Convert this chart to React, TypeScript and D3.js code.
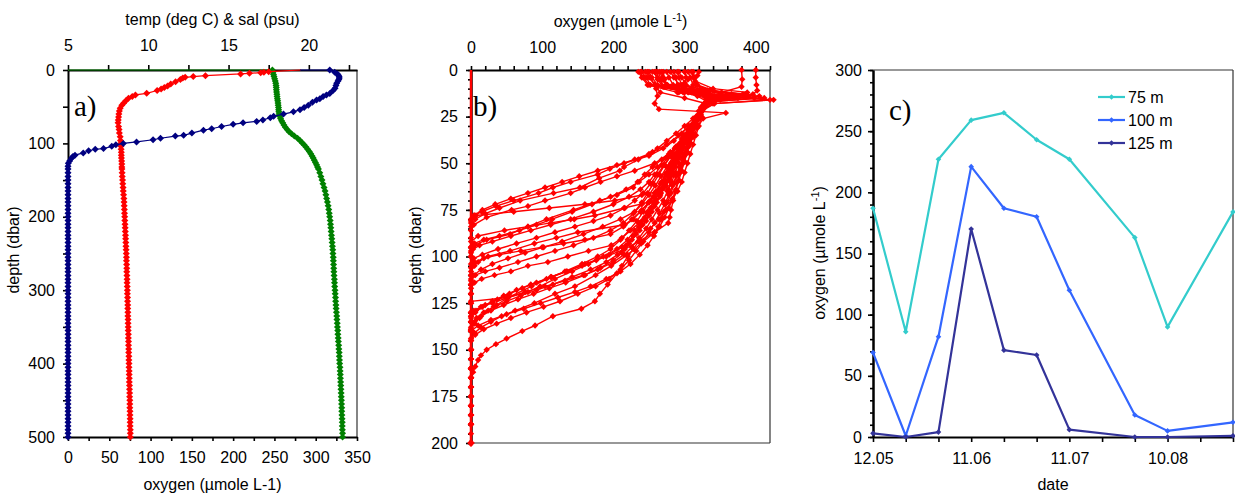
import React, { useRef, useEffect } from 'react';
import * as d3 from 'd3';

type Pt = [number, number]; // [depth, value]

// ---------- panel a : one CTD station ----------
// first point of each series is the empty spreadsheet row drawn at depth 0
const tempUpper: Pt[] = [
  [0, 19.5], [2.3, 17.5], [3, 17.2], [3.6, 17.0], [4.5, 16.3], [5.4, 15.75], [7.7, 13.56], [9, 12.8], [10, 12.3],
  [11, 12.15], [13, 12.0], [16, 11.7], [19, 11.4], [21.8, 11.2], [24, 11.0], [26, 10.8], [28, 10.55], [31.8, 9.9],
  [34, 9.2], [36, 9.0], [38.6, 8.77], [42, 8.6], [45.4, 8.46], [48, 8.35], [52, 8.25], [56, 8.2], [60, 8.17],
  [64, 8.15], [68, 8.13], [72, 8.12], [77, 8.15], [81, 8.18], [86, 8.2], [91, 8.25], [96, 8.27], [100, 8.28],
  [104, 8.3], [108, 8.31], [112, 8.32], [116, 8.32], [120, 8.33], [124, 8.34], [128, 8.35], [132, 8.35],
];
const salUpper: Pt[] = [
  [0, 5], [0, 17.73], [3, 17.76], [6, 17.8], [9, 17.83], [12, 17.87], [15, 17.91], [18, 17.94], [21, 17.96],
  [24, 17.97], [27, 17.98], [30, 17.99], [33, 18.01], [36, 18.02], [39, 18.04], [42, 18.06], [45, 18.08],
  [48, 18.09], [51, 18.11], [54, 18.12], [57, 18.13], [60, 18.15], [63, 18.19], [66, 18.24], [69, 18.3],
  [72, 18.37], [75, 18.45], [78, 18.54], [81, 18.65], [84, 18.77], [87, 18.92], [90, 19.1], [93, 19.3],
  [96, 19.45], [99, 19.58], [102, 19.7], [105, 19.82], [108, 19.93], [111, 20.03], [114, 20.12], [117, 20.2],
  [120, 20.27], [123, 20.34], [126, 20.41], [129, 20.48], [132, 20.54],
];
const oxyUpper: Pt[] = [
  [0, 281], [0, 317], [3, 323], [5, 326], [7, 327.5], [9, 328.3], [11, 328.6], [13, 328], [15, 327], [18, 325.4],
  [21, 324.5], [25, 323.4], [28, 321], [32, 317], [34, 313], [36, 309], [39, 305], [41, 301], [44, 296], [48, 291],
  [51, 286], [54, 281], [57, 273], [60, 261], [63, 249], [65, 245], [68, 236], [70, 228.5], [72, 212], [74, 200],
  [77, 186], [80, 174], [82, 164], [86, 150], [89, 140], [90, 130], [93, 112], [95, 103], [98, 83], [100, 67],
  [102, 58], [104, 53], [107, 43], [108, 33], [110, 25], [113, 18.5], [116, 8.5], [118, 6], [120, 4.5], [124, 2],
  [127, 0.4], [131, 0],
];
const deepDepths = [
  135, 140, 145, 150, 155, 160, 165, 170, 175, 180, 185, 190, 195, 200, 205, 210, 215, 220, 225, 230,
  235, 240, 245, 250, 255, 260, 265, 270, 275, 280, 285, 290, 295, 300, 305, 310, 315, 320, 325, 330,
  335, 340, 345, 350, 355, 360, 365, 370, 375, 380, 385, 390, 395, 400, 405, 410, 415, 420, 425, 430,
  435, 440, 445, 450, 455, 460, 465, 470, 475, 480, 485, 490, 495, 500,
];
const tempDeep = [
  8.36, 8.37, 8.38, 8.40, 8.41, 8.43, 8.44, 8.46, 8.48, 8.49, 8.50, 8.51, 8.52, 8.53, 8.54, 8.55, 8.56, 8.57, 8.58, 8.59,
  8.60, 8.61, 8.62, 8.63, 8.64, 8.64, 8.65, 8.66, 8.66, 8.67, 8.68, 8.68, 8.69, 8.70, 8.70, 8.71, 8.71, 8.72, 8.72, 8.73,
  8.73, 8.74, 8.74, 8.75, 8.75, 8.76, 8.76, 8.77, 8.77, 8.78, 8.78, 8.79, 8.79, 8.80, 8.80, 8.81, 8.81, 8.82, 8.82, 8.83,
  8.83, 8.84, 8.84, 8.85, 8.85, 8.85, 8.86, 8.86, 8.87, 8.87, 8.87, 8.88, 8.88, 8.88,
];
const salDeep = [
  20.60, 20.68, 20.75, 20.82, 20.88, 20.95, 21.01, 21.06, 21.11, 21.16, 21.20, 21.24, 21.27, 21.30, 21.33, 21.35, 21.37, 21.39, 21.41, 21.43,
  21.45, 21.47, 21.49, 21.50, 21.52, 21.53, 21.54, 21.55, 21.56, 21.57, 21.59, 21.60, 21.61, 21.63, 21.64, 21.66, 21.67, 21.69, 21.70, 21.72,
  21.74, 21.75, 21.77, 21.78, 21.80, 21.81, 21.83, 21.84, 21.86, 21.87, 21.89, 21.90, 21.91, 21.92, 21.94, 21.95, 21.96, 21.97, 21.98, 21.99,
  22.00, 22.01, 22.02, 22.03, 22.04, 22.05, 22.05, 22.06, 22.07, 22.08, 22.08, 22.09, 22.10, 22.10,
];
const oxyDeep = [
  0, 0, 0, 0, 0, 0, 0, 0, 0, 0, 0, 0, 0, 0, 0, 0, 0, 0, 0, 0,
  0, 0, 0, 0, 0, 0, 0, 0, 0, 0, 0, 0, 0, 0, 0, 0, 0, 0, 0, 0,
  0, 0, 0, 0, 0, 0, 0, 0, 0, 0, 0, 0, 0, 0, 0, 0, 0, 0, 0, 0,
  0, 0, 0, 0, 0, 0, 0, 0, 0, 0, 0, 0, 0, 0,
];

// ---------- panel b : oxygen casts [depth, oxygen] ----------
const anoxicLine: Pt[] = [[0, 0], [200, 0]];
const casts: Pt[][] = [
  [[1, 240], [4, 246], [8, 252], [11, 300], [14, 335], [18, 328], [22, 322], [26, 316], [30, 306], [34, 296], [38, 285], [42, 270], [46, 250], [50, 215], [53, 195], [56, 178], [60, 140], [63, 115], [66, 95], [70, 60], [73, 35], [76, 15], [78, 5], [82, 0], [90, 0], [100, 0], [110, 0], [120, 0], [130, 0], [140, 0], [150, 0], [160, 0], [170, 0], [180, 0], [190, 0], [200, 0]],
  [[1, 255], [4, 262], [8, 276], [11, 322], [13, 382], [15, 412], [17, 335], [20, 326], [25, 318], [30, 310], [35, 302], [40, 292], [45, 278], [50, 258], [54, 230], [57, 205], [60, 182], [63, 160], [66, 140], [70, 104], [73, 80], [75, 57], [79, 22], [83, 4], [86, 0], [100, 0], [125, 0], [150, 0], [175, 0], [200, 0]],
  [[1, 262], [5, 268], [9, 282], [12, 330], [15, 345], [18, 330], [22, 323], [26, 318], [30, 312], [35, 305], [40, 298], [45, 290], [50, 282], [55, 275], [60, 268], [65, 262], [68, 256], [71, 249], [74, 215], [78, 174], [80, 145], [82, 112], [84, 80], [86, 47], [89, 10], [92, 0], [110, 0], [135, 0], [160, 0], [185, 0], [200, 0]],
  [[0, 380], [5, 381], [9, 380], [12, 352], [15, 332], [19, 326], [24, 320], [29, 312], [34, 303], [39, 294], [44, 280], [48, 268], [52, 255], [56, 244], [60, 234], [63, 228], [67, 205], [70, 181], [75, 144], [80, 106], [84, 80], [88, 55], [91, 22], [94, 5], [97, 0], [115, 0], [140, 0], [165, 0], [190, 0], [200, 0]],
  [[1, 290], [4, 292], [8, 296], [12, 330], [16, 332], [20, 324], [25, 316], [30, 306], [35, 292], [40, 275], [44, 255], [48, 235], [52, 215], [54, 209], [58, 180], [63, 153], [66, 116], [70, 69], [74, 40], [77, 20], [80, 6], [84, 0], [100, 0], [130, 0], [160, 0], [200, 0]],
  [[1, 300], [5, 305], [9, 300], [12, 292], [14, 330], [16, 425], [18, 340], [22, 322], [27, 316], [32, 308], [37, 300], [42, 294], [47, 290], [52, 286], [56, 283], [60, 280], [64, 277], [67, 240], [70, 202], [72, 160], [74, 110], [76, 60], [78, 7], [81, 0], [95, 0], [120, 0], [145, 0], [170, 0], [195, 0]],
  [[1, 310], [4, 312], [8, 318], [11, 340], [13, 385], [15, 360], [17, 333], [21, 326], [26, 320], [31, 313], [36, 305], [41, 298], [46, 292], [51, 286], [56, 280], [61, 272], [66, 262], [71, 250], [76, 238], [80, 226], [83, 216], [87, 150], [90, 120], [93, 89], [97, 55], [100, 24], [103, 10], [105, 5], [108, 0], [125, 0], [150, 0], [175, 0], [200, 0]],
  [[1, 248], [4, 252], [8, 258], [12, 266], [15, 300], [18, 330], [22, 325], [27, 318], [32, 310], [37, 303], [42, 297], [47, 291], [52, 286], [57, 280], [62, 274], [67, 266], [72, 258], [77, 248], [82, 236], [86, 224], [90, 212], [94, 197], [97, 165], [100, 136], [103, 108], [105, 80], [108, 56], [110, 33], [112, 15], [114, 5], [117, 0], [135, 0], [160, 0], [185, 0], [200, 0]],
  [[1, 270], [5, 272], [10, 260], [14, 262], [18, 258], [21, 264], [23, 358], [26, 326], [31, 318], [36, 312], [41, 306], [46, 300], [51, 295], [56, 290], [61, 285], [66, 281], [71, 276], [76, 271], [80, 267], [84, 263], [87, 258], [92, 235], [96, 216], [100, 190], [104, 160], [108, 135], [111, 113], [116, 85], [122, 52], [126, 36], [129, 24], [133, 12], [136, 5], [139, 0], [155, 0], [180, 0], [200, 0]],
  [[0, 400], [4, 400], [8, 401], [11, 402], [13, 396], [16, 332], [20, 323], [25, 318], [30, 314], [35, 310], [40, 306], [45, 302], [50, 298], [55, 294], [60, 290], [65, 287], [70, 284], [75, 281], [79, 279], [82, 277], [87, 258], [93, 239], [99, 220], [105, 197], [110, 175], [116, 146], [120, 118], [125, 89], [129, 62], [132, 43], [135, 28], [138, 14], [141, 5], [144, 0], [160, 0], [180, 0], [200, 0]],
  [[1, 320], [3, 318], [6, 315], [10, 340], [12, 388], [14, 360], [17, 334], [20, 328], [25, 324], [30, 320], [35, 316], [40, 312], [45, 308], [50, 304], [55, 300], [60, 296], [65, 290], [70, 282], [75, 274], [80, 264], [85, 252], [91, 237], [96, 228], [100, 220], [105, 212], [109, 205], [115, 192], [120, 181], [124, 174], [128, 155], [132, 115], [137, 90], [140, 72], [144, 50], [147, 35], [150, 22], [153, 14], [155.5, 10], [159, 6], [162, 3], [165, 0], [180, 0], [190, 0], [200, 0]],
  [[1, 235], [4, 240], [8, 248], [12, 290], [15, 375], [17, 340], [20, 326], [25, 318], [30, 309], [35, 300], [40, 293], [45, 287], [50, 281], [55, 275], [60, 268], [65, 260], [70, 252], [75, 240], [80, 228], [84, 214], [88, 196], [91, 160], [93, 130], [95, 100], [97, 70], [99, 40], [101, 18], [103, 5], [106, 0], [130, 0], [155, 0], [180, 0], [200, 0]],
  [[1, 280], [4, 285], [8, 292], [11, 335], [14, 390], [16, 345], [19, 328], [24, 321], [29, 314], [34, 306], [39, 299], [44, 292], [49, 285], [54, 279], [59, 272], [64, 266], [69, 259], [74, 252], [79, 244], [84, 236], [89, 228], [94, 218], [99, 206], [103, 190], [107, 168], [111, 142], [115, 115], [118, 92], [121, 70], [124, 50], [127, 32], [130, 18], [133, 8], [136, 2], [139, 0], [160, 0], [185, 0], [200, 0]],
  [[1, 265], [5, 270], [9, 280], [12, 300], [15, 342], [18, 330], [23, 322], [28, 315], [33, 308], [38, 302], [43, 296], [48, 290], [53, 284], [58, 278], [63, 271], [68, 265], [73, 258], [78, 250], [83, 241], [88, 232], [93, 222], [98, 212], [102, 200], [106, 182], [110, 160], [114, 133], [117, 110], [120, 88], [123, 66], [126, 46], [129, 28], [132, 14], [135, 5], [138, 0], [150, 0], [175, 0], [200, 0]],
  [[1, 245], [4, 250], [8, 258], [12, 320], [14, 372], [17, 338], [21, 326], [26, 319], [31, 311], [36, 303], [41, 296], [46, 289], [51, 282], [56, 276], [61, 270], [66, 263], [71, 256], [76, 248], [81, 240], [86, 230], [91, 220], [96, 205], [100, 186], [104, 165], [108, 142], [112, 118], [116, 97], [119, 80], [122, 52], [124, 0], [140, 0], [165, 0], [190, 0], [200, 0]],
  [[1, 300], [4, 302], [7, 300], [10, 290], [13, 325], [16, 420], [18, 342], [22, 324], [27, 318], [32, 312], [37, 307], [42, 302], [47, 297], [52, 293], [57, 288], [62, 283], [67, 278], [72, 272], [77, 265], [82, 258], [87, 250], [92, 242], [97, 232], [102, 222], [107, 210], [112, 194], [116, 175], [120, 150], [124, 125], [127, 102], [130, 78], [133, 56], [136, 36], [139, 18], [142, 6], [145, 0], [165, 0], [185, 0], [200, 0]],
  [[1, 285], [4, 288], [8, 290], [11, 310], [14, 352], [17, 334], [21, 325], [26, 318], [31, 310], [36, 300], [41, 290], [46, 281], [51, 272], [56, 264], [61, 256], [66, 248], [71, 240], [76, 230], [80, 210], [84, 185], [88, 158], [92, 128], [95, 102], [98, 76], [101, 52], [104, 30], [107, 14], [110, 4], [113, 0], [135, 0], [160, 0], [185, 0], [200, 0]],
  [[1, 258], [5, 262], [9, 270], [12, 310], [15, 398], [17, 338], [21, 324], [26, 317], [31, 309], [36, 301], [41, 294], [46, 287], [51, 280], [56, 273], [61, 266], [66, 258], [71, 250], [76, 242], [81, 233], [86, 222], [91, 210], [96, 196], [100, 178], [104, 156], [108, 132], [112, 106], [115, 84], [118, 64], [121, 46], [124, 30], [127, 16], [130, 6], [133, 0], [150, 0], [175, 0], [200, 0]],
  [[1, 250], [4, 254], [8, 262], [12, 312], [15, 336], [18, 328], [22, 320], [26, 312], [30, 300], [34, 288], [38, 275], [42, 262], [45, 250], [48, 230], [51, 205], [54, 178], [57, 152], [60, 128], [63, 104], [66, 80], [69, 56], [72, 34], [75, 16], [78, 4], [80, 0], [95, 0], [115, 0], [140, 0], [165, 0], [190, 0], [200, 0]],
  [[1, 275], [4, 278], [8, 284], [11, 318], [14, 342], [17, 330], [21, 323], [26, 316], [31, 308], [36, 298], [41, 288], [46, 278], [51, 268], [56, 258], [60, 250], [64, 238], [68, 222], [72, 200], [76, 172], [80, 140], [83, 112], [86, 84], [89, 56], [92, 30], [94, 12], [96, 3], [98, 0], [120, 0], [145, 0], [170, 0], [200, 0]],
  [[1, 312], [4, 314], [8, 316], [11, 336], [13, 366], [16, 340], [20, 327], [25, 321], [30, 316], [35, 310], [40, 304], [45, 298], [50, 292], [55, 287], [60, 282], [65, 276], [70, 270], [75, 262], [80, 254], [85, 246], [90, 236], [95, 226], [99, 215], [103, 200], [107, 178], [110, 158], [113, 132], [116, 104], [119, 76], [122, 52], [125, 30], [127, 14], [129, 4], [132, 0], [150, 0], [175, 0], [200, 0]],
  [[1, 268], [4, 270], [8, 274], [11, 296], [14, 318], [17, 332], [21, 324], [26, 317], [31, 310], [36, 303], [41, 297], [46, 291], [51, 285], [56, 279], [61, 273], [66, 267], [71, 261], [76, 254], [81, 246], [86, 237], [91, 226], [95, 212], [99, 194], [102, 176], [105, 156], [108, 134], [111, 112], [114, 92], [117, 72], [120, 54], [123, 37], [126, 20], [129, 7], [132, 0], [145, 0], [170, 0], [200, 0]],
  [[1, 292], [4, 296], [8, 302], [11, 328], [14, 368], [17, 336], [21, 326], [26, 318], [31, 309], [36, 299], [41, 289], [46, 280], [51, 271], [56, 262], [61, 252], [66, 242], [70, 230], [74, 216], [78, 196], [81, 172], [84, 146], [87, 118], [90, 92], [93, 64], [96, 38], [99, 16], [101, 4], [104, 0], [125, 0], [150, 0], [175, 0], [200, 0]],
  [[1, 238], [4, 242], [8, 250], [12, 305], [15, 352], [18, 330], [22, 322], [27, 314], [32, 305], [37, 296], [42, 286], [47, 274], [52, 262], [56, 250], [60, 236], [64, 218], [68, 196], [72, 170], [76, 142], [80, 114], [83, 92], [86, 68], [89, 40], [91, 18], [93, 5], [95, 0], [115, 0], [140, 0], [165, 0], [190, 0], [200, 0]],
  [[1, 305], [4, 308], [8, 312], [11, 332], [14, 405], [16, 350], [19, 330], [24, 323], [29, 317], [34, 312], [39, 308], [44, 304], [49, 300], [54, 296], [59, 292], [64, 288], [69, 283], [74, 278], [79, 272], [84, 265], [89, 257], [94, 248], [99, 237], [104, 224], [108, 210], [112, 190], [116, 168], [119, 146], [122, 122], [125, 98], [128, 74], [131, 50], [134, 28], [137, 10], [140, 0], [160, 0], [185, 0], [200, 0]],
  [[1, 260], [5, 264], [9, 272], [12, 298], [15, 330], [18, 328], [22, 322], [27, 315], [32, 307], [37, 299], [42, 291], [47, 283], [52, 275], [57, 267], [62, 259], [67, 250], [72, 240], [77, 228], [82, 214], [86, 196], [90, 172], [94, 144], [97, 118], [100, 92], [103, 66], [106, 40], [108, 20], [110, 6], [112, 0], [130, 0], [155, 0], [180, 0], [200, 0]],
];

// ---------- panel c : oxygen at fixed depths ----------
const sampleDates = ['2005-05-12', '2005-05-22', '2005-06-01', '2005-06-11', '2005-06-21', '2005-07-01', '2005-07-11', '2005-07-31', '2005-08-10', '2005-08-30'];
const oxy75 = [187, 86, 227, 259, 265, 243, 227, 163, 90, 184];
const oxy100 = [69, 1, 82, 221, 187, 180, 120, 18, 5, 12];
const oxy125 = [3, 0, 4, 170, 71, 67, 6, 0, 0, 1];
const levelNames = ['75 m', '100 m', '125 m'];
const levelColors = ['#33cccc', '#3366ff', '#333399'];

const FONT = '"Liberation Sans", Arial, sans-serif';
const SERIF = '"Liberation Serif", "Times New Roman", serif';
const FS = 16;
const diamond = (r: number) => `M0,${-r}L${r},0L0,${r}L${-r},0Z`;

const dress = (g: any) => {
  g.attr('font-family', FONT).attr('font-size', FS);
  g.select('.domain').attr('stroke', '#000').attr('stroke-width', 2);
  g.selectAll('.tick line').attr('stroke', '#000').attr('stroke-width', 1.6);
  g.selectAll('.tick text').attr('fill', '#000');
};

const App = () => {
  const svgRef = useRef<SVGSVGElement>(null);

  useEffect(() => {
    const svg = d3.select(svgRef.current);
    svg.selectAll('*').remove();
    svg.attr('font-family', FONT).attr('font-size', FS);

    const text = (x: number, y: number, s: string, anchor = 'middle') =>
      svg.append('text').attr('x', x).attr('y', y).attr('text-anchor', anchor).attr('fill', '#000').text(s);
    const border = (x1: number, y1: number, x2: number, y2: number) =>
      svg.append('line').attr('x1', x1).attr('y1', y1).attr('x2', x2).attr('y2', y2)
        .attr('stroke', '#333').attr('stroke-width', 1.2);

    // ================= panel a =================
    const yA = d3.scaleLinear().domain([0, 500]).range([70, 437]);
    const tA = d3.scaleLinear().domain([5, 23]).range([68, 357]);
    const oA = d3.scaleLinear().domain([0, 350]).range([68, 357]);

    border(357, 70, 357, 437);
    svg.append('g').attr('transform', 'translate(0,70)')
      .call(d3.axisTop(tA).tickValues(d3.range(5, 23, 2.5))
        .tickFormat((v: any) => (v % 5 === 0 ? String(v) : '')).tickSize(5).tickSizeOuter(0).tickPadding(14))
      .call(dress);
    svg.append('g').attr('transform', 'translate(0,437)')
      .call(d3.axisBottom(oA).tickValues(d3.range(0, 351, 25))
        .tickFormat((v: any) => (v % 50 === 0 ? String(v) : '')).tickSize(4).tickSizeOuter(0).tickPadding(11))
      .call(dress);
    svg.append('g').attr('transform', 'translate(68,0)')
      .call(d3.axisLeft(yA).tickValues(d3.range(0, 501, 50))
        .tickFormat((v: any) => (v % 100 === 0 ? String(v) : '')).tickSize(5).tickSizeOuter(0).tickPadding(8))
      .call(dress);

    const withDeep = (upper: Pt[], deep: number[]) =>
      upper.concat(deepDepths.map((d, i) => [d, deep[i]] as Pt));
    const aSeries = [
      { pts: withDeep(salUpper, salDeep), x: tA, color: '#008000' },
      { pts: withDeep(tempUpper, tempDeep), x: tA, color: '#ff0000' },
      { pts: withDeep(oxyUpper, oxyDeep), x: oA, color: '#000080' },
    ];
    aSeries.forEach((s) => {
      const line = d3.line<Pt>().x((p) => s.x(p[1])).y((p) => yA(p[0]));
      svg.append('path').attr('d', line(s.pts)).attr('fill', 'none').attr('stroke', s.color).attr('stroke-width', 1.2);
      svg.append('g').selectAll('path').data(s.pts.slice(1)).join('path')
        .attr('d', diamond(3.5))
        .attr('transform', (p) => `translate(${s.x(p[1])},${yA(p[0])})`)
        .attr('fill', s.color);
    });

    text(212.5, 25, 'temp (deg C) & sal (psu)');
    text(212.5, 490, 'oxygen (µmole L-1)');
    svg.append('text').attr('transform', 'translate(19,250) rotate(-90)').attr('text-anchor', 'middle').text('depth (dbar)');
    svg.append('text').attr('x', 74).attr('y', 116).attr('font-family', SERIF).attr('font-size', 29).text('a)');

    // ================= panel b =================
    const xB = d3.scaleLinear().domain([0, 420]).range([471, 770]);
    const yB = d3.scaleLinear().domain([0, 200]).range([70, 443]);

    border(770, 70, 770, 443);
    border(471, 443, 770, 443);
    svg.append('g').attr('transform', 'translate(0,70)')
      .call(d3.axisTop(xB).tickValues(d3.range(0, 421, 20))
        .tickFormat((v: any) => (v % 100 === 0 && v <= 400 ? String(v) : '')).tickSize(4).tickSizeOuter(0).tickPadding(13))
      .call(dress);
    svg.append('g').attr('transform', 'translate(471,0)')
      .call(d3.axisLeft(yB).tickValues(d3.range(0, 201, 5)).tickFormat(() => '').tickSize(3).tickSizeOuter(0))
      .call(dress);
    svg.append('g').attr('transform', 'translate(471,0)')
      .call(d3.axisLeft(yB).tickValues(d3.range(0, 201, 25)).tickSize(5).tickSizeOuter(0).tickPadding(8))
      .call(dress);

    const lineB = d3.line<Pt>().x((p) => xB(p[1])).y((p) => yB(p[0]));
    svg.append('path').attr('d', lineB(anoxicLine)).attr('fill', 'none').attr('stroke', '#ff0000').attr('stroke-width', 2.5);
    casts.forEach((c) => {
      svg.append('path').attr('d', lineB(c)).attr('fill', 'none').attr('stroke', '#ff0000').attr('stroke-width', 1.4);
      svg.append('g').selectAll('path').data(c).join('path')
        .attr('d', diamond(3.2))
        .attr('transform', (p) => `translate(${xB(p[1])},${yB(p[0])})`)
        .attr('fill', '#ff0000');
    });

    const titleB = svg.append('text').attr('x', 620.5).attr('y', 27).attr('text-anchor', 'middle');
    titleB.append('tspan').text('oxygen (µmole L');
    titleB.append('tspan').attr('dy', -6).attr('font-size', 11).text('-1');
    titleB.append('tspan').attr('dy', 6).text(')');
    svg.append('text').attr('transform', 'translate(421,250) rotate(-90)').attr('text-anchor', 'middle').text('depth (dbar)');
    svg.append('text').attr('x', 473).attr('y', 116).attr('font-family', SERIF).attr('font-size', 29).text('b)');

    // ================= panel c =================
    const dates = sampleDates.map((s) => new Date(s + 'T00:00:00Z'));
    const start = dates[0];
    const end = dates[dates.length - 1];
    const xC = d3.scaleUtc().domain([start, end]).range([873, 1233]);
    const yC = d3.scaleLinear().domain([0, 300]).range([437, 70]);
    const fmt = d3.utcFormat('%d.%m');

    border(873, 70, 1233, 70);
    border(1233, 70, 1233, 437);
    svg.append('g').attr('transform', 'translate(873,0)')
      .call(d3.axisLeft(yC).tickValues(d3.range(0, 301, 10)).tickFormat(() => '').tickSize(3).tickSizeOuter(0))
      .call(dress);
    svg.append('g').attr('transform', 'translate(873,0)')
      .call(d3.axisLeft(yC).tickValues(d3.range(0, 301, 50)).tickSize(5).tickSizeOuter(0).tickPadding(6))
      .call(dress);
    svg.append('g').attr('transform', 'translate(0,437)')
      .call(d3.axisBottom(xC).tickValues(d3.utcDay.range(start, d3.utcDay.offset(end, 1), 10))
        .tickFormat((d: any, i: number) => (i % 3 === 0 ? fmt(d) : '')).tickSize(5).tickSizeOuter(0).tickPadding(11))
      .call(dress);

    const levels = [oxy75, oxy100, oxy125];
    levels.forEach((vals, k) => {
      const pts = vals.map((v, i) => ({ date: dates[i], v }));
      const line = d3.line<{ date: Date; v: number }>().x((p) => xC(p.date)).y((p) => yC(p.v));
      svg.append('path').attr('d', line(pts)).attr('fill', 'none')
        .attr('stroke', levelColors[k]).attr('stroke-width', 2.2).attr('stroke-linejoin', 'round');
      svg.append('g').selectAll('path').data(pts).join('path')
        .attr('d', diamond(2.8))
        .attr('transform', (p) => `translate(${xC(p.date)},${yC(p.v)})`)
        .attr('fill', levelColors[k]);
    });

    // legend
    levelNames.forEach((name, k) => {
      const y = 97 + k * 23;
      svg.append('line').attr('x1', 1098).attr('x2', 1125).attr('y1', y).attr('y2', y)
        .attr('stroke', levelColors[k]).attr('stroke-width', 2.2);
      svg.append('path').attr('d', diamond(2.8)).attr('transform', `translate(1111.5,${y})`).attr('fill', levelColors[k]);
      svg.append('text').attr('x', 1128).attr('y', y).attr('dy', '0.35em').text(name);
    });

    const titleC = svg.append('text').attr('transform', 'translate(825,253) rotate(-90)').attr('text-anchor', 'middle');
    titleC.append('tspan').text('oxygen (µmole L');
    titleC.append('tspan').attr('dy', -6).attr('font-size', 11).text('-1');
    titleC.append('tspan').attr('dy', 6).text(')');
    text(1053, 490, 'date');
    svg.append('text').attr('x', 889).attr('y', 120).attr('font-family', SERIF).attr('font-size', 29).text('c)');
  }, []);

  return (
    <svg
      ref={svgRef}
      width={1235}
      height={495}
      style={{ position: 'absolute', left: 0, top: 0, background: '#fff' }}
    />
  );
};

export default App;
